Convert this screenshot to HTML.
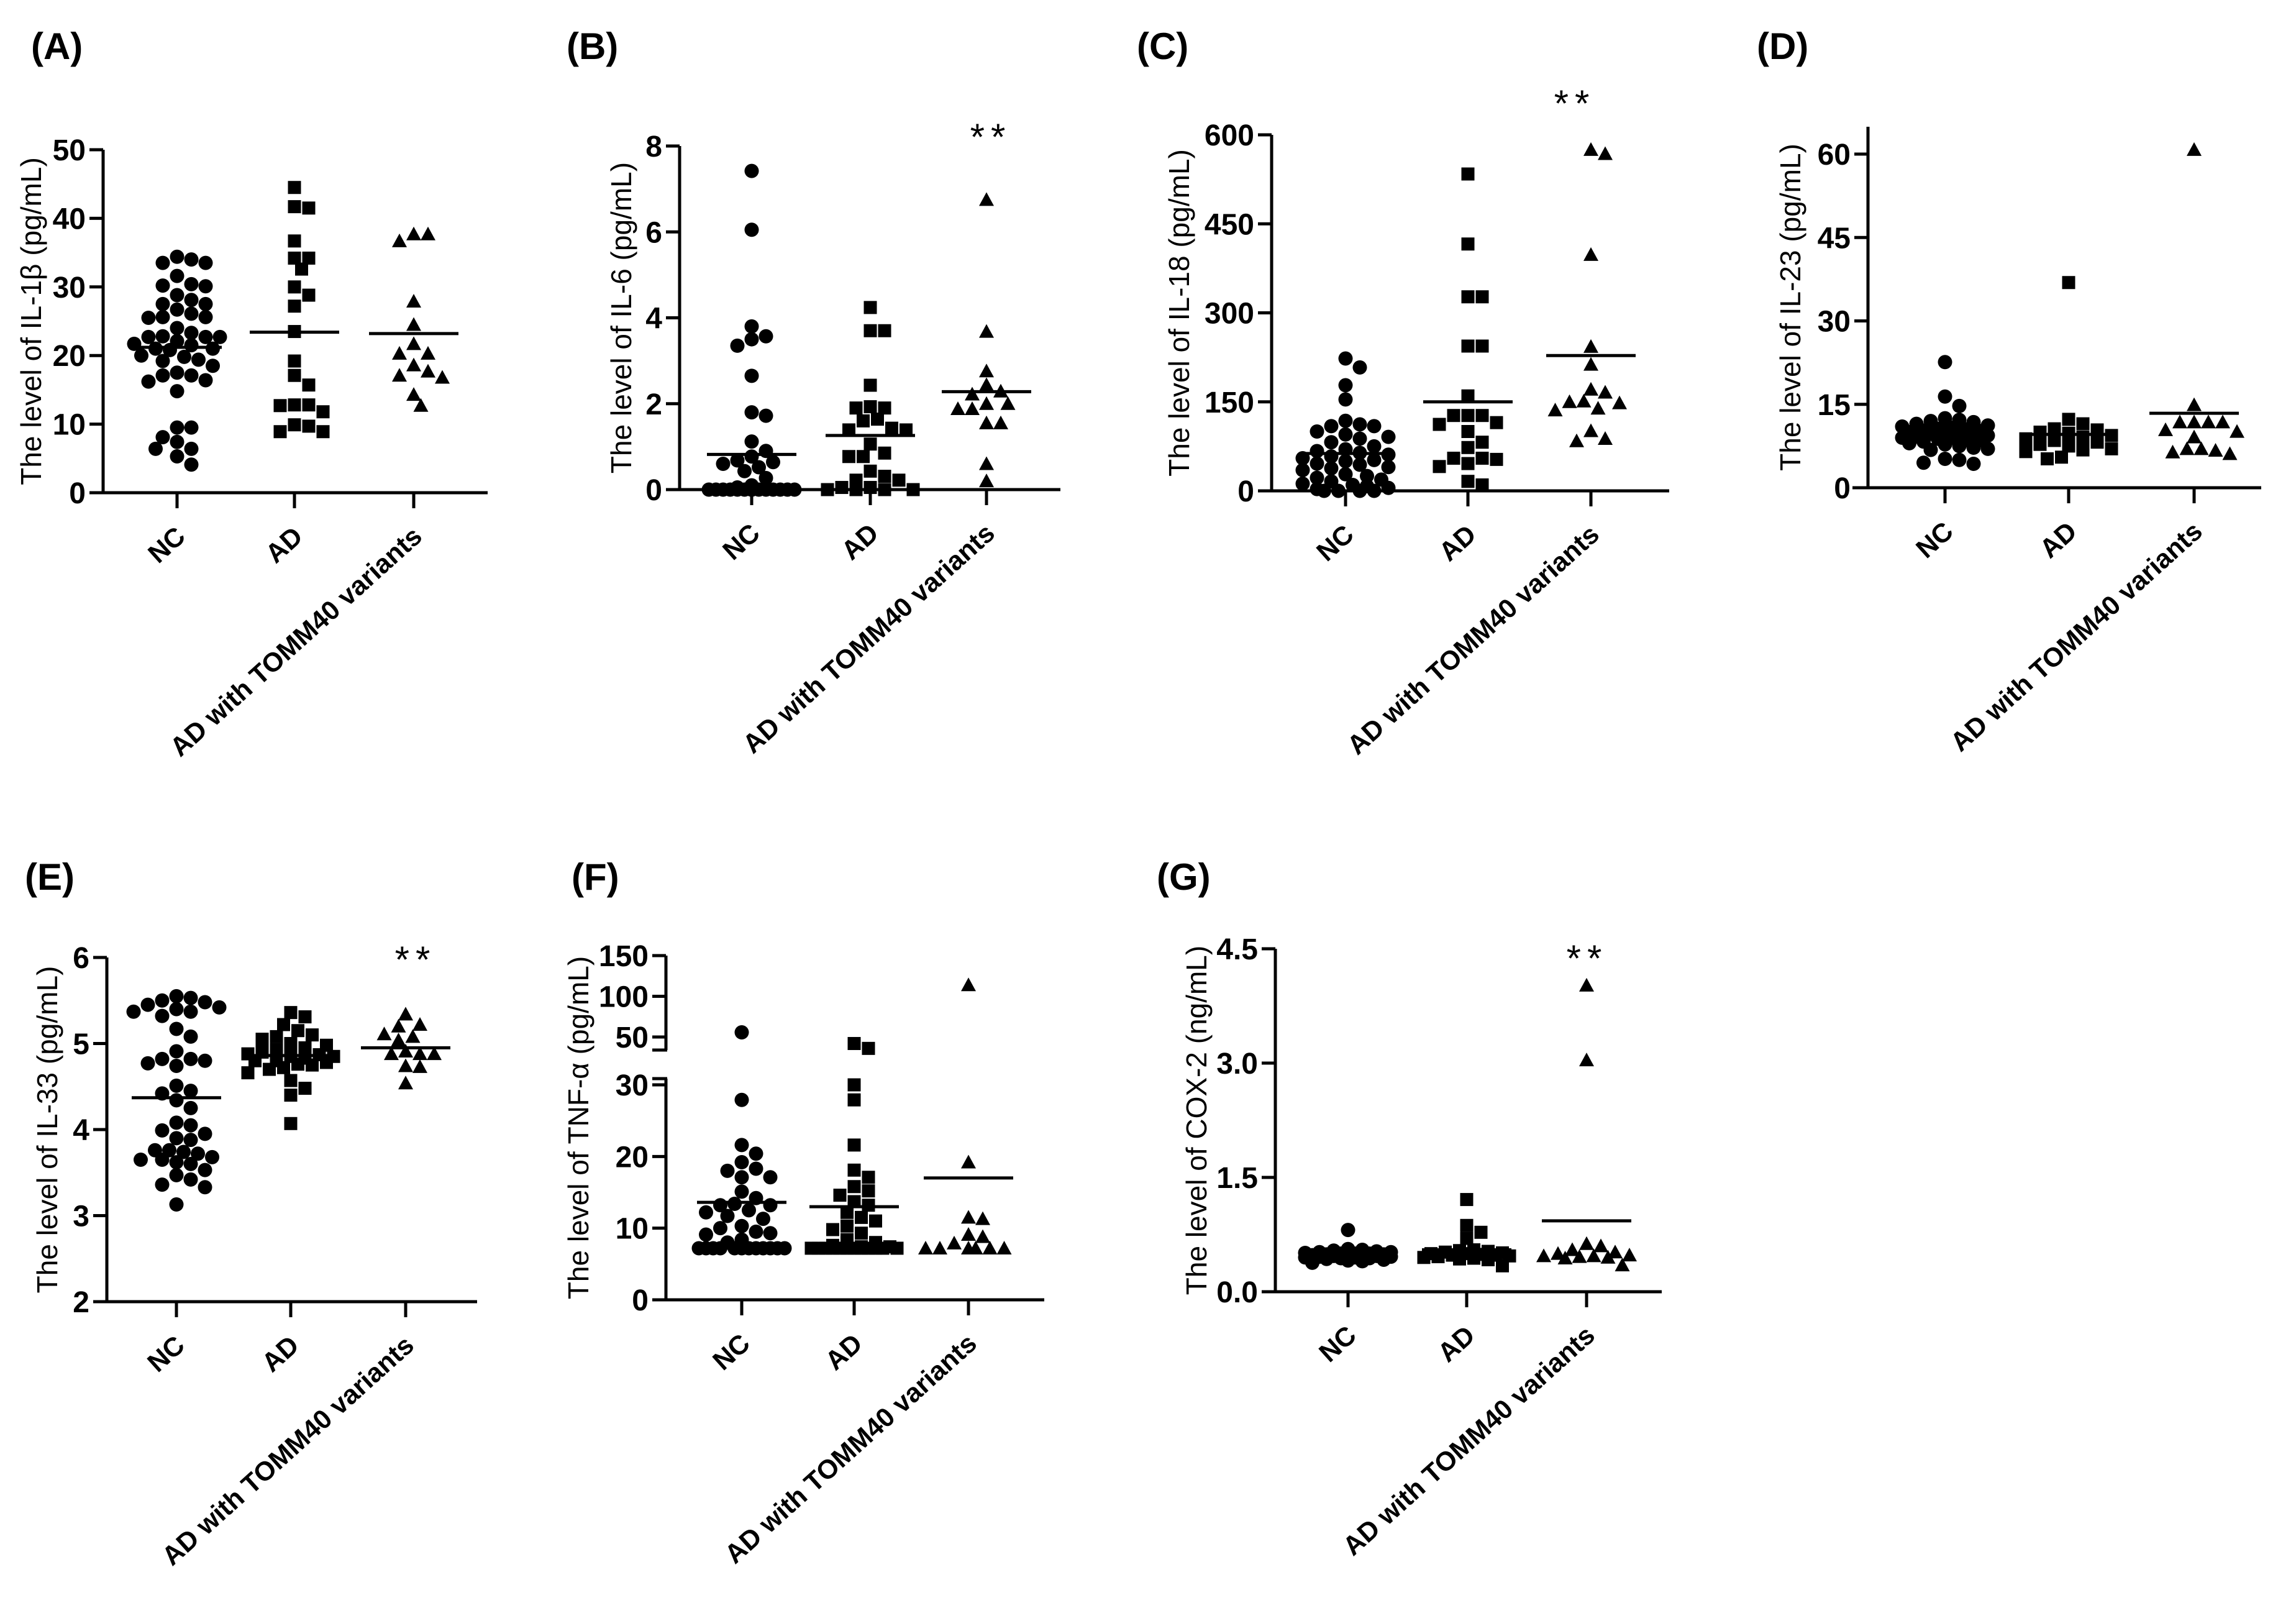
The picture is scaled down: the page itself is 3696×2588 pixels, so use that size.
<!DOCTYPE html>
<html><head><meta charset="utf-8"><style>
html,body{margin:0;padding:0;background:#fff;}
svg{display:block;}
text{font-family:"Liberation Sans",Arial,sans-serif;fill:#000;}
</style></head><body>
<svg id="fig" width="3696" height="2588" viewBox="0 0 3696 2588" xmlns="http://www.w3.org/2000/svg"></svg>
<script>
// ---- data ----
const categories = ["NC","AD","AD with TOMM40 variants"];
const A_nc=[34.4,34.0,33.5,33.5,31.6,30.4,30.2,30.1,28.8,28.1,27.5,27.5,26.7,26.1,25.6,25.5,25.6,24.0,23.3,22.8,22.7,22.7,22.7,22.1,21.7,21.5,21.0,21.0,20.8,20.0,19.8,19.4,19.2,18.5,17.5,17.1,17.1,16.4,16.2,14.8,9.5,9.5,8.1,7.4,6.4,6.4,5.3,4.1];
const A_ad=[44.5,41.5,41.7,36.7,34.2,34.2,32.6,30.0,28.8,27.2,23.5,19.2,17.1,15.7,12.7,12.8,12.8,11.8,9.9,9.7,8.9,8.9];
const A_tm=[37.7,37.7,36.7,27.9,24.5,21.7,20.3,20.3,18.6,17.7,17.1,16.8,14.3,12.7];
const A_means=[21.2,23.4,23.2];
const A_ticks=[0,10,20,30,40,50];

const B_nc=[7.42,6.05,3.8,3.57,3.5,3.35,2.65,1.8,1.72,1.12,0.9,0.77,0.68,0.64,0.6,0.52,0.43,0.27,0.1,0.05,0,0,0,0,0,0,0,0,0,0,0,0,0,0,0,0,0,0];
const B_ad=[4.24,3.7,3.7,2.43,1.93,1.9,1.9,1.64,1.6,1.43,1.39,1.39,1.06,0.85,0.77,0.77,0.43,0.31,0.22,0.22,0.05,0.05,0,0,0,0];
const B_tm=[6.75,3.68,2.76,2.44,2.29,2.22,2.0,2.0,1.88,1.88,1.55,1.55,0.6,0.2];
const B_means=[0.82,1.26,2.28];
const B_ticks=[0,2,4,6,8];

const C_nc=[223,208,178,154,118,112,109,109,100,95,91,88,82,75,70,67,64,61,58,55,52,50,46,44,40,38,35,28,25,22,19,16,12,10,8,5,3,0,0,0,0];
const C_ad=[534,416,327,327,244,244,160,127,127,127,115,112,100,82,73,55,55,53,46,41,16,10];
const C_tm=[575,568,398,243,213,171,166,151,150,148,139,136,101,88,84];
const C_means=[63,150,228];
const C_ticks=[0,150,300,450,600];

const D_nc=[22.6,16.4,14.7,12.5,12.2,12,11.8,11.5,11.2,11,10.8,10.6,10.5,10.3,10.2,10,10,9.8,9.7,9.5,9.4,9.2,9,9,8.8,8.6,8.5,8.3,8,7.8,7.5,7.2,7,6.8,5.2,5.0,4.5,4.3];
const D_ad=[36.9,12.3,11.5,10.6,10.4,10,9.8,9.4,9.1,8.8,8.5,8.2,7.8,7.5,7.0,6.8,6.5,5.5,5.2];
const D_tm=[60.8,14.9,11.8,11.8,11.8,11.8,10.4,10.1,9.1,7,7,6.7,6.4,6.1];
const D_means=[9.8,9.6,13.4];
const D_ticks=[0,15,30,45,60];

const E_nc=[5.55,5.53,5.5,5.48,5.45,5.42,5.4,5.37,5.37,5.32,5.17,5.08,4.91,4.82,4.82,4.8,4.77,4.74,4.51,4.45,4.42,4.34,4.25,4.08,4.05,3.99,3.95,3.9,3.88,3.76,3.76,3.74,3.72,3.68,3.65,3.65,3.62,3.6,3.53,3.47,3.42,3.36,3.33,3.13];
const E_ad=[5.36,5.31,5.22,5.15,5.1,5.08,5.05,5.0,4.98,4.95,4.93,4.9,4.88,4.87,4.85,4.85,4.83,4.8,4.8,4.78,4.76,4.75,4.72,4.7,4.66,4.57,4.48,4.4,4.07];
const E_tm=[5.34,5.22,5.2,5.11,5.08,5.04,4.91,4.88,4.88,4.88,4.74,4.73,4.54];
const E_means=[4.37,4.86,4.95];
const E_ticks=[2,3,4,5,6];

const F_nc=[55.7,27.9,21.6,20.4,19.2,18.3,18.0,17.1,17.1,15.1,14.2,13.4,13.2,13.2,12.5,12.2,11.7,11.3,10.3,10.0,9.5,9.3,9.1,8.4,8.0,7.2,7.2,7.2,7.2,7.2,7.2,7.2,7.2,7.2,7.2,7.2,7.2];
const F_ad=[42,36,30,27.9,21.6,18.1,17.1,15.8,15.2,14.6,13.7,13.2,12.2,11.5,11.0,10.3,9.8,9.3,8.4,8.0,7.6,7.4,7.4,7.2,7.2,7.2,7.2,7.2,7.2,7.2,7.2,7.2,7.2,7.2,7.2];
const F_tm=[113.9,19.2,11.5,11.3,9.1,8.8,7.9,7.2,7.2,7.2,7.2,7.2,7.2];
const F_means=[13.6,13.0,17.0];
const F_ticksLow=[0,10,20,30];
const F_ticksHigh=[50,100,150];

const G_nc=[0.81,0.56,0.55,0.54,0.53,0.52,0.52,0.51,0.5,0.5,0.5,0.49,0.49,0.48,0.48,0.48,0.47,0.47,0.46,0.46,0.45,0.45,0.44,0.44,0.43,0.42,0.41,0.4,0.38];
const G_ad=[1.21,0.87,0.78,0.7,0.55,0.54,0.53,0.52,0.51,0.5,0.5,0.49,0.48,0.48,0.47,0.46,0.45,0.44,0.43,0.42,0.34];
const G_tm=[4.02,3.04,0.63,0.6,0.55,0.52,0.5,0.48,0.47,0.47,0.46,0.45,0.44,0.35];
const G_means=[0.52,0.55,0.93];
const G_ticks=[0.0,1.5,3.0,4.5];

// ---- rendering ----
const NS="http://www.w3.org/2000/svg";
const svg=document.getElementById('fig');
function mk(tag,attrs,parent){const e=document.createElementNS(NS,tag);for(const k in attrs)e.setAttribute(k,attrs[k]);(parent||svg).appendChild(e);return e;}
function linScale(v0,p0,v1,p1){return v=>p0+(v-v0)*(p1-p0)/(v1-v0);}

const TICKF=48, TITLEF=46, CATF=43, LETF=60, CATANG=-42;
const panels=[
 {id:'A',letter:'(A)',lx:50,ly:95,ax:166,x0:144,xEnd:785,yBot:793,yTop:241,cats:[285,474,666],data:[A_nc,A_ad,A_tm],means:A_means,ticks:A_ticks,fmt:v=>String(v),y:linScale(0,793,50,241),title:'The level of IL-1β (pg/mL)',tx:50,stars:null},
 {id:'B',letter:'(B)',lx:912,ly:95,ax:1094,x0:1072,xEnd:1707,yBot:788,yTop:235,cats:[1210,1401,1588],data:[B_nc,B_ad,B_tm],means:B_means,ticks:B_ticks,fmt:v=>String(v),y:linScale(0,788,8,235),title:'The level of IL-6 (pg/mL)',tx:1000,stars:[1595,205]},
 {id:'C',letter:'(C)',lx:1830,ly:95,ax:2047,x0:2025,xEnd:2687,yBot:790,yTop:217,cats:[2166,2363,2561],data:[C_nc,C_ad,C_tm],means:C_means,ticks:C_ticks,fmt:v=>String(v),y:linScale(0,790,600,217),title:'The level of IL-18 (pg/mL)',tx:1898,stars:[2535,151]},
 {id:'D',letter:'(D)',lx:2828,ly:95,ax:3007,x0:2982,xEnd:3640,yBot:785,yTop:204,cats:[3131,3330,3532],data:[D_nc,D_ad,D_tm],means:D_means,ticks:D_ticks,fmt:v=>String(v),y:linScale(0,785,60,248),title:'The level of IL-23 (pg/mL)',tx:2882,stars:null},
 {id:'E',letter:'(E)',lx:40,ly:1432,ax:172,x0:150,xEnd:768,yBot:2095,yTop:1541,cats:[284,468,653],data:[E_nc,E_ad,E_tm],means:E_means,ticks:E_ticks,fmt:v=>String(v),y:linScale(2,2095,6,1541),title:'The level of IL-33 (pg/mL)',tx:76,stars:[669,1529]},
 {id:'F',letter:'(F)',lx:920,ly:1432,ax:1072,x0:1050,xEnd:1681,yBot:2092,yTop:1538,cats:[1194,1375,1559],data:[F_nc,F_ad,F_tm],means:F_means,ticks:null,fmt:v=>String(v),y:null,title:'The level of TNF-α (pg/mL)',tx:931,stars:null},
 {id:'G',letter:'(G)',lx:1862,ly:1432,ax:2053,x0:2031,xEnd:2675,yBot:2079,yTop:1527,cats:[2170,2361,2554],data:[G_nc,G_ad,G_tm],means:G_means,ticks:G_ticks,fmt:v=>v.toFixed(1),y:linScale(0,2079,4.5,1527),title:'The level of COX-2 (ng/mL)',tx:1926,stars:[2555,1527]}
];
const fLow=linScale(0,2092,30,1746), fHigh=linScale(50,1669,150,1538);
panels[5].y=v=> v<=31.5 ? fLow(v) : fHigh(v);

const SZ=23;
function swarm(vals,cx,yf){
  const pts=vals.map(v=>({v:v,y:yf(v)})).sort((a,b)=>a.y-b.y);
  const placed=[];const minD=SZ*0.9;const step=SZ*0.5;const maxOff=74;
  pts.forEach(p=>{
    let best=0,bestScore=-1;
    for(let k=0;k<=Math.floor(maxOff/step)*2;k++){
      const off=(k%2===1?1:-1)*Math.ceil(k/2)*step;
      let md=1e9;placed.forEach(q=>{const d=Math.hypot(q.x-(cx+off),q.y-p.y);if(d<md)md=d;});
      if(md>=minD){best=off;bestScore=1e9;break;}
      if(md>bestScore){bestScore=md;best=off;}
    }
    p.x=cx+best;placed.push(p);
  });
  return placed;
}
function marker(g,shape,x,y,name){
  let e;
  if(shape===0)e=mk('circle',{cx:x,cy:y,r:SZ/2,fill:'#000'},g);
  else if(shape===1)e=mk('rect',{x:x-SZ/2+1,y:y-SZ/2+1,width:SZ-2,height:SZ-2,fill:'#000'},g);
  else e=mk('polygon',{points:`${x},${y-12} ${x-12},${y+10} ${x+12},${y+10}`,fill:'#000'},g);
  
  
}
function tickLabel(g,P,yy,txt){
  const tt=mk('text',{x:P.ax-28,y:yy+17,'font-size':TICKF,'font-weight':'bold','text-anchor':'end'},g);
  tt.textContent=txt;
  
  
}

panels.forEach(P=>{
  const g=mk('g',{});
  
  
  const lab=mk('text',{x:P.lx,y:P.ly,'font-size':LETF,'font-weight':'bold'},g);lab.textContent=P.letter;
  
  
  const ax=mk('g',{stroke:'#000','stroke-width':5,fill:'none'},g);
  
  
  mk('line',{x1:P.x0,y1:P.yBot,x2:P.xEnd,y2:P.yBot},ax);
  if(P.id==='F'){
    mk('line',{x1:P.ax,y1:P.yBot+2,x2:P.ax,y2:1736},ax);
    mk('line',{x1:P.ax-22,y1:1736,x2:P.ax+2,y2:1736},ax);
    mk('line',{x1:P.ax,y1:1690,x2:P.ax,y2:P.yTop},ax);
    mk('line',{x1:P.ax-22,y1:1690,x2:P.ax+2,y2:1690},ax);
    F_ticksLow.forEach(t=>{const yy=fLow(t);mk('line',{x1:P.ax-22,y1:yy,x2:P.ax,y2:yy},ax);tickLabel(g,P,yy,String(t));});
    F_ticksHigh.forEach(t=>{const yy=fHigh(t);mk('line',{x1:P.ax-22,y1:yy,x2:P.ax,y2:yy},ax);tickLabel(g,P,yy,String(t));});
  } else {
    mk('line',{x1:P.ax,y1:P.yBot+2,x2:P.ax,y2:P.yTop},ax);
    P.ticks.forEach(t=>{const yy=P.y(t);mk('line',{x1:P.ax-22,y1:yy,x2:P.ax,y2:yy},ax);tickLabel(g,P,yy,P.fmt(t));});
  }
  P.cats.forEach((cx,i)=>{
    mk('line',{x1:cx,y1:P.yBot,x2:cx,y2:P.yBot+25},ax);
    const tx=cx+16,ty=P.yBot+74;
    const ct=mk('text',{x:tx,y:ty,'font-size':CATF,'font-weight':'bold','text-anchor':'end',transform:`rotate(${CATANG} ${tx} ${ty})`},g);
    ct.textContent=categories[i];
    
    
  });
  const ymid=(P.yTop+P.yBot)/2;
  const yt=mk('text',{x:P.tx+16,y:ymid,'font-size':TITLEF,'text-anchor':'middle',transform:`rotate(-90 ${P.tx+16} ${ymid})`},g);
  yt.textContent=P.title;
  
  
  P.data.forEach((vals,i)=>{
    const pts=swarm(vals,P.cats[i],P.y);
    pts.forEach(p=>marker(g,i,p.x,p.y,'point-'+['nc','ad','tomm40'][i]));
    const my=P.y(P.means[i]);
    const ml=mk('line',{x1:P.cats[i]-72,y1:my,x2:P.cats[i]+72,y2:my,stroke:'#000','stroke-width':5},g);
    
    
  });
  if(P.stars){
    const st=mk('text',{x:P.stars[0],y:P.stars[1]+36,'font-size':60,'text-anchor':'middle','letter-spacing':'10'},g);
    st.textContent='**';
    
    
  }
});
</script>
</body></html>
